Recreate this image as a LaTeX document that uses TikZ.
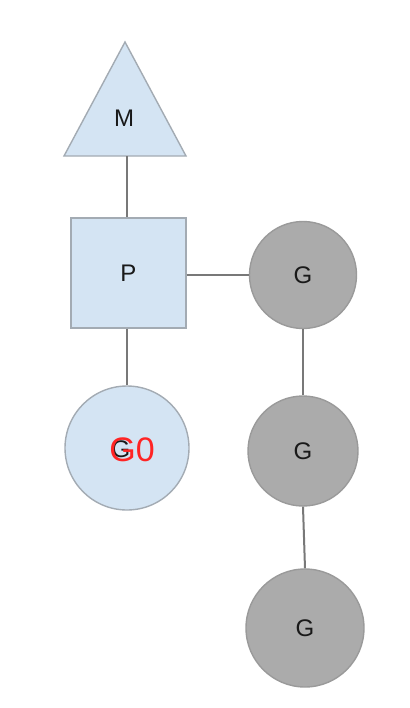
\documentclass[tikz,border=0pt]{standalone}
\usepackage{fontspec}
\setmainfont{Liberation Sans}
\usetikzlibrary{calc}

\definecolor{lblue}{HTML}{D4E4F3}
\definecolor{lborder}{HTML}{A3ABB3}
\definecolor{gfill}{HTML}{ABABAB}
\definecolor{gborder}{HTML}{9A9A9A}
\definecolor{wire}{HTML}{787878}
\definecolor{redmark}{HTML}{FF2424}

\tikzset{
  gnode/.style={circle, fill=gfill, draw=gborder, line width=0.7pt, inner sep=0pt},
  pbox/.style={rectangle, fill=lblue, draw=lborder, line width=0.7pt, inner sep=0pt},
  wireline/.style={draw=wire, line width=1pt},
  lbl/.style={font=\fontsize{12}{14}\selectfont, text=black!90}
}

\begin{document}
\begin{tikzpicture}[x=0.5pt, y=-0.5pt]
 \useasboundingbox (0,0) rectangle (409,708);

 % M
 \filldraw[fill=lblue, draw=lborder, line width=0.7pt] (125,42) -- (186,156) -- (64,156) -- cycle;
 \node[lbl] (m) at (124,118) {M};
 \coordinate (mbase) at (127,156);

 % P
 \node[pbox, minimum width=57.5pt, minimum height=55pt] (p) at (128.5,273) {};
 \node[lbl] at (p.center) {P};

 % G0
 \node[circle, fill=lblue, draw=lborder, line width=0.7pt, minimum size=62pt, inner sep=0pt] (g0) at (127,448) {};
 \node[lbl] at (121,449) {G};
 \node[font=\fontsize{17}{20}\selectfont, text=redmark] at (132,450) {G0};

 % run queue
 \node[gnode, minimum size=53.5pt] (g1) at (303,275) {};
 \node[gnode, minimum size=55pt] (g2) at (303,451) {};
 \node[gnode, minimum size=59pt] (g3) at (305,628) {};
 \node[lbl] at (g1) {G};
 \node[lbl] at (g2) {G};
 \node[lbl] at (g3) {G};

 \draw[wireline] (mbase) -- (p.north -| mbase);
 \draw[wireline] (p.east |- g1.west) -- (g1.west);
 \draw[wireline] (p.south -| g0.north) -- (g0.north);
 \draw[wireline] (g1.south) -- (g2.north);
 \draw[wireline] (g2.south) -- (g3.north);

\end{tikzpicture}
\end{document}
